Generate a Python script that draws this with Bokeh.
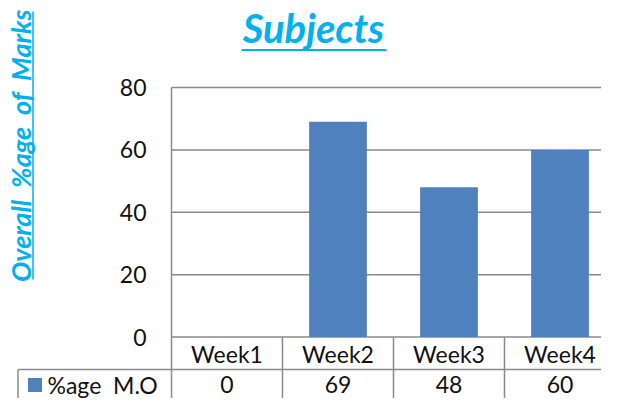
from bokeh.plotting import figure
from bokeh.models import Range1d, LinearAxis, FixedTicker
from bokeh.core.properties import value
from bokeh.embed import file_html
from bokeh.resources import INLINE

# ---- data ----
categories = ["Week1", "Week2", "Week3", "Week4"]
marks = [0, 69, 48, 60]
series_name = "%age \u00a0M.O"
y_ticks = [0, 20, 40, 60, 80]
title_text = "Subjects"
y_label = "Overall \u00a0%age \u00a0of \u00a0Marks"

# ---- layout helpers (canvas pixel -> data coordinates) ----
W, H = 601, 398
CELL = 111.0                 # px per category
PLOT_LEFT = 171.0            # px of plot-area left edge
X_CENTER0 = PLOT_LEFT + CELL / 2
Y_ZERO = 336.5               # px of value 0
Y_TOP = 87.0                 # px of value 80
PX_PER_UNIT = (Y_ZERO - Y_TOP) / 80.0


def dx(px):
    return (px - X_CENTER0) / CELL


def dy(py):
    return (Y_ZERO - py) / PX_PER_UNIT


FONT = value("Lato")
BLUE = "#4F81BD"
TITLE_BLUE = "#00B0F0"
LINE = "#8a8a8a"
TXT = "#111111"

x0, x1 = dx(0), dx(W)
y0, y1 = dy(H), dy(0)

p = figure(width=W, height=H, x_range=Range1d(x0, x1), y_range=Range1d(y0, y1),
           output_backend="svg", toolbar_location=None, min_border=0,
           x_axis_type=None, y_axis_type=None)
p.outline_line_color = None
p.background_fill_color = "white"
p.border_fill_color = "white"

n = len(categories)
xs = list(range(n))
left_edge = -0.5

# y axis drawn at the plot-area's left edge
yaxis = LinearAxis(fixed_location=left_edge, ticker=FixedTicker(ticks=y_ticks))
yaxis.axis_line_color = None
yaxis.major_tick_line_color = None
yaxis.minor_tick_line_color = None
yaxis.major_tick_out = 0
yaxis.major_tick_in = 0
yaxis.major_label_standoff = 25
yaxis.major_label_text_font = "Lato"
yaxis.major_label_text_font_size = "23px"
yaxis.major_label_text_color = TXT
p.add_layout(yaxis, "left")

# gridlines
p.segment(x0=[left_edge] * len(y_ticks), y0=y_ticks, x1=[x1] * len(y_ticks), y1=y_ticks,
          line_color=LINE, line_width=1.5)

# bars
p.vbar(x=xs, top=marks, bottom=0, width=0.52, fill_color=BLUE, line_color=None)

# data table lines
row_split = dy(369)
legend_left = dx(17.5)
p.segment(x0=[left_edge], y0=[y_ticks[-1]], x1=[left_edge], y1=[y0], line_color=LINE, line_width=1.5)
bounds = [i + 0.5 for i in xs]
p.segment(x0=bounds, y0=[0] * n, x1=bounds, y1=[y0] * n, line_color=LINE, line_width=1.5)
p.segment(x0=[legend_left], y0=[row_split], x1=[x1], y1=[row_split], line_color=LINE, line_width=1.5)
p.segment(x0=[legend_left], y0=[row_split], x1=[legend_left], y1=[y0], line_color=LINE, line_width=1.5)

# category row
p.text(x=xs, y=[dy(353)] * n, text=categories, text_align="center", text_baseline="middle",
       text_font=FONT, text_font_size="23px", text_color=TXT)
# value row
p.text(x=xs, y=[dy(384)] * n, text=[str(v) for v in marks], text_align="center",
       text_baseline="middle", text_font=FONT, text_font_size="23px", text_color=TXT)
# legend key
p.scatter(x=[dx(34.5)], y=[dy(384.5)], marker="square", size=14, fill_color=BLUE, line_color=None)
p.text(x=[dx(47)], y=[dy(384)], text=[series_name], text_align="left", text_baseline="middle",
       text_font=FONT, text_font_size="23px", text_color=TXT)

# title
p.text(x=[dx(313)], y=[dy(27)], text=[title_text], text_align="center", text_baseline="alphabetic",
       text_font=FONT, text_font_style="bold italic", text_font_size="40px", text_color=TITLE_BLUE)
p.segment(x0=[dx(241)], y0=[dy(49.5)], x1=[dx(386)], y1=[dy(49.5)], line_color=TITLE_BLUE, line_width=2)

# y axis title (rotated)
p.text(x=[dx(20)], y=[dy(145)], text=[y_label], angle=1.5707963, text_align="center",
       text_baseline="alphabetic", text_font=FONT, text_font_style="bold italic",
       text_font_size="27px", text_color=TITLE_BLUE)
p.segment(x0=[dx(32.5)], y0=[dy(11)], x1=[dx(32.5)], y1=[dy(279)], line_color=TITLE_BLUE, line_width=1.5)

open("out.html", "w").write(file_html(p, INLINE))
